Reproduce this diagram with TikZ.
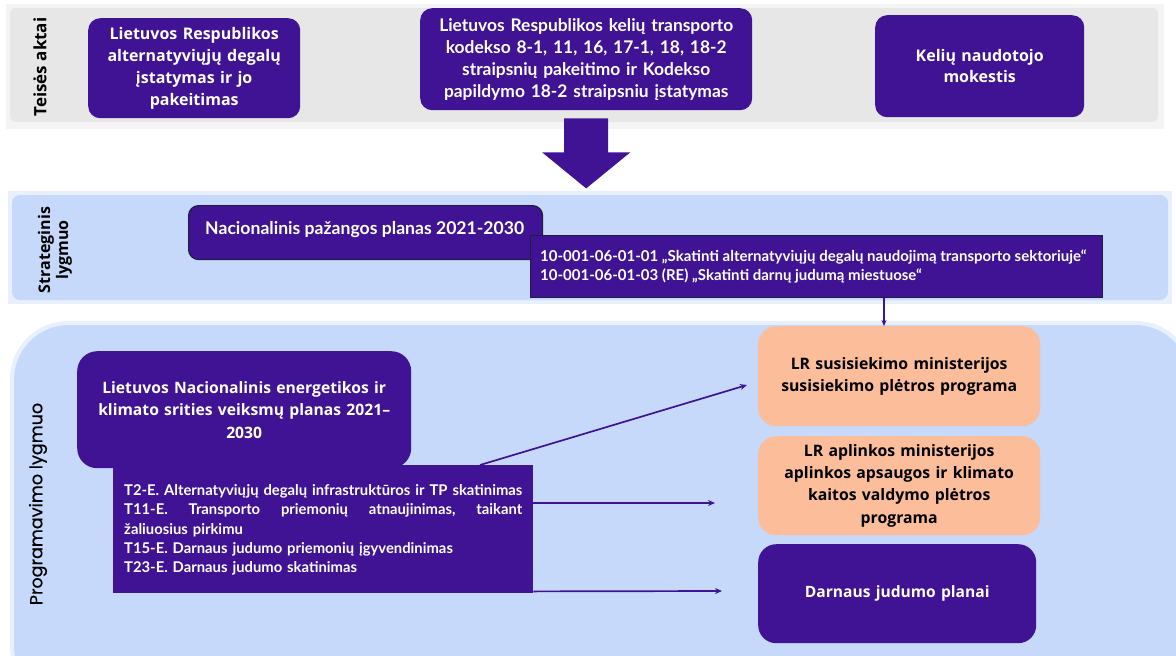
\documentclass[tikz,border=0pt]{standalone}
\usepackage{fontspec}
\setmainfont{Open Sans}
\newfontfamily\condf{Lato}
\newfontfamily\popp[FakeBold=0.5]{Poppins}
\usetikzlibrary{arrows.meta,calc}
\definecolor{purp}{HTML}{3F1393}
\definecolor{graybg}{HTML}{E7E7E7}
\definecolor{bluebg}{HTML}{C6D9FA}
\definecolor{orng}{HTML}{FBBD9A}
\definecolor{navy}{HTML}{1E1E3C}
\tikzset{
  pbox/.style={fill=purp, rounded corners=12, text=white, align=center, anchor=north west, inner sep=4pt},
  obox/.style={fill=orng, rounded corners=18, text=black, align=center, anchor=north west, inner sep=4pt,
    minimum width=278, minimum height=99, text width=274,
    font=\bfseries\fontsize{15.8}{22.3}\selectfont},
  sqbox/.style={fill=purp, draw=navy, line width=1.2, text=white, anchor=north west},
  lvl/.style={rotate=90, text=black},
  conn/.style={draw=purp, line width=1.7, -{Stealth[length=7,width=6]}},
}
\begin{document}
\begin{tikzpicture}[x=1pt,y=-1pt]
\useasboundingbox (0,0) rectangle (1176,656);
\clip (0,0) rectangle (1176,656);
\fill[white] (0,0) rectangle (1176,656);
% bands
\fill[graybg!45] (6,4) rectangle (1164,129);
\fill[graybg, rounded corners=6] (10,8) rectangle (1158,122);
\fill[bluebg!40] (8,191) rectangle (1172,304);
\fill[bluebg, rounded corners=8] (12,195) rectangle (1168,300);
\fill[bluebg!40, rounded corners=58] (10,321) rectangle (1194,704);
\fill[bluebg, rounded corners=55] (14,325) rectangle (1190,700);
% level labels
\node[lvl, font=\bfseries\fontsize{17}{18}\selectfont] (l1) at (40,67) {Teisės aktai};
\node[lvl, align=center, font=\bfseries\fontsize{16}{18}\selectfont] (l2) at (55,250) {Strateginis\\lygmuo};
\node[lvl, font=\popp\fontsize{17.5}{18}\selectfont] (l3) at (38,504) {Programavimo lygmuo};
% top boxes
\node[pbox, minimum width=208, minimum height=100, text width=204,
  font=\bfseries\fontsize{16}{22}\selectfont] (b1) at (88,18)
  {Lietuvos Respublikos\\alternatyviųjų degalų\\įstatymas ir jo\\pakeitimas};
\node[pbox, minimum width=328, minimum height=102, text width=324,
  font=\condf\bfseries\fontsize{17.4}{22}\selectfont] (b2) at (420,8)
  {Lietuvos Respublikos kelių transporto\\kodekso 8-1, 11, 16, 17-1, 18, 18-2\\straipsnių pakeitimo ir Kodekso\\papildymo 18-2 straipsniu įstatymas};
\node[pbox, minimum width=209, minimum height=102, text width=200,
  font=\bfseries\fontsize{16}{21.5}\selectfont] (b3) at (875,15)
  {Kelių naudotojo\\mokestis};
% big arrow
\fill[purp] ($(b2.south)+(-22,8)$) -- ++(44,0) -- ++(0,34) -- ++(22,0) -- ++(-44,36) -- ++(-44,-36) -- ++(22,0) -- cycle;
% strategic
\node[sqbox, rounded corners=10, minimum width=354, minimum height=54, inner sep=0pt] (npp) at (188,205) {};
\node[anchor=west, inner sep=0pt, text=white, font=\condf\bfseries\fontsize{17.6}{18}\selectfont] (npptxt) at (205,230) {Nacionalinis pažangos planas 2021-2030};
\node[sqbox, minimum width=572, minimum height=62, inner sep=0pt] (goal) at (530,235) {};
\node[anchor=west, inner sep=0pt, text=white, align=left, font=\condf\bfseries\fontsize{15}{19}\selectfont] (goaltxt) at (540,266)
  {10-001-06-01-01 „Skatinti alternatyviųjų degalų naudojimą transporto sektoriuje“\\10-001-06-01-03 (RE) „Skatinti darnų judumą miestuose“};
% programming
\node[pbox, rounded corners=20, minimum width=330, minimum height=117, text width=326,
  font=\bfseries\fontsize{15.7}{22.5}\selectfont] (nek) at (77,351)
  {Lietuvos Nacionalinis energetikos ir\\klimato srities veiksmų planas 2021–\\2030};
\node[fill=purp, anchor=north west, minimum width=420, minimum height=128, inner sep=0pt] (tbox) at (113,465) {};
\node[anchor=west, text=white, align=left, text width=404, inner sep=0pt,
  font=\condf\bfseries\fontsize{14.8}{19.4}\selectfont] (ttxt) at (124,530)
  {\mbox{T2-E. Alternatyviųjų degalų infrastruktūros ir TP skatinimas}\\
   \leavevmode\hbox to 398pt{T11-E.\hfill Transporto\hfill priemonių\hfill atnaujinimas,\hfill taikant}\\
   žaliuosius pirkimu\\
   T15-E. Darnaus judumo priemonių įgyvendinimas\\
   T23-E. Darnaus judumo skatinimas};
\node[obox, minimum height=100] (o1) at (758,326) {LR susisiekimo ministerijos\\susisiekimo plėtros programa};
\node[obox] (o2) at (758,436) {LR aplinkos ministerijos\\aplinkos apsaugos ir klimato\\kaitos valdymo plėtros\\programa};
\node[pbox, rounded corners=18, minimum width=278, minimum height=99, text width=270,
  font=\bfseries\fontsize{15.6}{20}\selectfont] (dj) at (758,544) {Darnaus judumo planai};
% connectors
\coordinate (g0) at ($(goal.south west)+(354,0)$);
\coordinate (e1) at (747,385);
\coordinate (e2) at (715,503);
\coordinate (e3) at (722,591);
\draw[conn, line width=1.2, -{Stealth[length=6,width=5]}] (g0) -- (g0 |- o1.north);
\draw[conn] ($(tbox.north west)+(367,0)$) -- (e1);
\draw[conn] ($(tbox.north east)+(0,38)$) -- (e2);
\draw[conn] ($(tbox.south east)+(0,-2)$) -- (e3);
\end{tikzpicture}
\end{document}
